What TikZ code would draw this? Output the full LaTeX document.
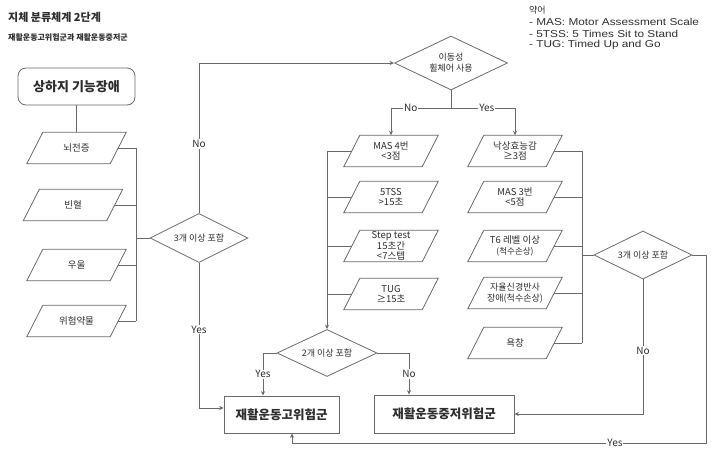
\documentclass[tikz,border=0pt]{standalone}
\usepackage{fontspec}
\setmainfont{Noto Sans CJK KR}
\newfontfamily\legendfont[FakeStretch=1.18]{Liberation Sans}
\usetikzlibrary{shapes.geometric,arrows.meta,calc}
\definecolor{linegray}{RGB}{105,105,105}
\definecolor{txt}{RGB}{45,45,45}
\begin{document}
\begin{tikzpicture}[x=1pt,y=-1pt,
  line/.style={draw=linegray, line width=0.8pt},
  arr/.style={line, -{Stealth[length=4.5pt,width=4pt]}},
  para/.style={rectangle, minimum height=31pt, minimum width=78pt, inner sep=0pt,
    align=center, text=txt, font=\fontsize{9.5}{10.5}\selectfont},
  lpara/.style={para, minimum width=83pt, font=\fontsize{9.5}{11}\selectfont},
  dia/.style={diamond, draw=linegray, line width=0.8pt, inner sep=0pt, aspect=2,
    align=center, text=txt, font=\fontsize{9}{11}\selectfont},
  box/.style={rectangle, draw=linegray, line width=0.8pt, inner sep=0pt, text=txt,
    font=\bfseries\fontsize{12.5}{14}\selectfont},
  lbl/.style={fill=white, inner sep=1pt, text=txt, font=\fontsize{10}{11}\selectfont}
]
\useasboundingbox (0,0) rectangle (717,457);

% titles
\node[anchor=west, text=txt, font=\bfseries\fontsize{11}{12}\selectfont, inner sep=0pt] (title) at (8,17) {지체 분류체계 2단계};
\node[anchor=west, text=txt, font=\bfseries\fontsize{8}{9}\selectfont, inner sep=0pt] (subtitle) at (8,37) {재활운동고위험군과 재활운동중저군};

% legend
\node[anchor=west, text=txt, font=\fontsize{9}{10}\selectfont, inner sep=0pt] (lg0) at (529,10) {약어};
\node[anchor=west, text=txt, font=\legendfont\fontsize{10}{11}\selectfont, inner sep=0pt] (lg1) at (529,22) {- MAS: Motor Assessment Scale};
\node[anchor=west, text=txt, font=\legendfont\fontsize{10}{11}\selectfont, inner sep=0pt] (lg2) at (529,33.5) {- 5TSS: 5 Times Sit to Stand};
\node[anchor=west, text=txt, font=\legendfont\fontsize{10}{11}\selectfont, inner sep=0pt] (lg3) at (529,45) {- TUG: Timed Up and Go};

% left group
\node[box, rounded corners=8pt, minimum width=117pt, minimum height=37pt, font=\bfseries\fontsize{13}{15}\selectfont] (top) at (76.5,86.5) {상하지 기능장애};
\node[lpara] (p1) at (76.5,148) {뇌전증};
\node[lpara] (p2) at (73,205) {빈혈};
\node[lpara] (p3) at (76.5,265) {우울};
\node[lpara] (p4) at (76.5,321) {위험약물};
\node[dia, minimum width=98pt, minimum height=49pt] (d1) at (199,238) {3개 이상 포함};
\coordinate (lj) at (136,0);

% top decision
\node[dia, minimum width=113pt, minimum height=54pt] (d2) at (451,63) {이동성\\휠체어 사용};
\coordinate (split) at (451,108);

% left column
\node[para] (m4) at (391,151) {MAS 4번\\<3점};
\node[para] (m5) at (391,197) {5TSS\\>15초};
\node[para] (m6) at (391,246) {Step test\\15초간\\<7스텝};
\node[para] (m7) at (391,294) {TUG\\≥15초};
\coordinate (lc) at (327,0);
\node[dia, minimum width=100pt, minimum height=47pt] (d3) at (327,353) {2개 이상 포함};

% right column
\node[para] (r1) at (515,151) {낙상효능감\\≥3점};
\node[para] (r2) at (515,197) {MAS 3번\\<5점};
\node[para] (r3) at (515,246) {T6 레벨 이상\\{\fontsize{8.5}{10}\selectfont(척수손상)}};
\node[para, font=\fontsize{9}{10.5}\selectfont] (r4) at (515,293) {자율신경반사\\장애(척수손상)};
\node[para] (r5) at (515,343) {욕창};
\coordinate (rcol) at (582,0);
\node[dia, minimum width=98pt, minimum height=48pt] (d4) at (643,255) {3개 이상 포함};

% parallelogram outlines
\foreach \p in {p1,p2,p3,p4,m4,m5,m6,m7,r1,r2,r3,r4,r5}
  \draw[line] ($(\p.north west)+(8,0)$) -- ($(\p.north east)+(8,0)$)
    -- ($(\p.south east)+(-8,0)$) -- ($(\p.south west)+(-8,0)$) -- cycle;

% result boxes
\node[box, minimum width=115pt, minimum height=37pt] (hi) at (281.5,414.5) {재활운동고위험군};
\node[box, minimum width=140pt, minimum height=38pt] (mid) at (444,414) {재활운동중저위험군};
\coordinate (hiw) at ($(hi.west)+(0,-6.5)$);
\coordinate (hin) at ($(hi.north)+(-18.5,0)$);
\coordinate (his) at ($(hi.south)+(10.5,0)$);
\coordinate (midn) at ($(mid.north)+(-35,0)$);
\coordinate (rc) at (706,443);

% left group connectors
\draw[line] (top.south) -- (p1.north);
\foreach \p in {p1,p2,p3,p4} \draw[line] (\p.east) -- (\p.east -| lj);
\draw[line] (p1.east -| lj) -- (p4.east -| lj);
\draw[line] (d1.west -| lj) -- (d1.west);
\draw[arr] (d1.north) -- node[lbl,pos=0.46]{No} (d1.north |- d2.west) -- (d2.west);
\draw[arr] (d1.south) -- node[lbl,pos=0.46]{Yes} (d1.south |- hiw) -- (hiw);

% top decision connectors
\draw[line] (d2.south) -- (split);
\draw[arr] (split) -- node[lbl,pos=0.67]{No} (split -| m4.north) -- (m4.north);
\draw[arr] (split) -- node[lbl,pos=0.56]{Yes} (split -| r1.north) -- (r1.north);

% left column connectors
\foreach \p in {m4,m5,m6,m7} \draw[line] (\p.west) -- (\p.west -| lc);
\draw[arr] (m4.west -| lc) -- (d3.north);
\draw[arr] (d3.west) -- (d3.west -| hin) -- node[lbl]{Yes} (hin);
\draw[arr] (d3.east) -- (d3.east -| midn) -- node[lbl]{No} (midn);

% right column connectors
\foreach \p in {r1,r2,r3,r4,r5} \draw[line] (\p.east) -- (\p.east -| rcol);
\draw[line] (r1.east -| rcol) -- (r5.east -| rcol);
\draw[line] (d4.west -| rcol) -- (d4.west);
\draw[arr] (d4.south) -- node[lbl,pos=0.53]{No} (d4.south |- mid.east) -- (mid.east);
\draw[arr] (d4.east) -| (rc) -- node[lbl,pos=0.22]{Yes} (rc -| his) -- (his);
\end{tikzpicture}
\end{document}
